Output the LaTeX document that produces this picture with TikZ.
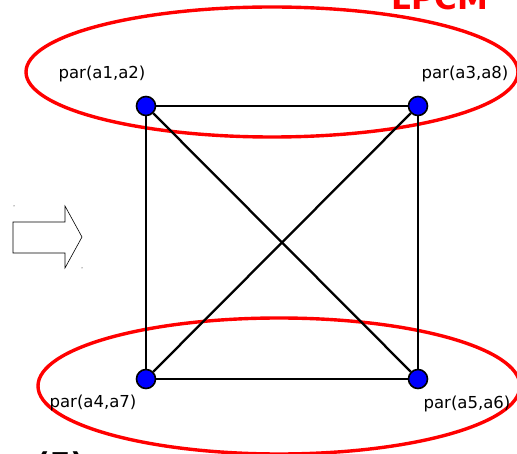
\documentclass[tikz,border=0pt]{standalone}
\usepackage{fontspec}
\setmainfont{DejaVu Sans}
\begin{document}
\begin{tikzpicture}[x=1pt,y=-1pt,
  vtx/.style={circle,fill=blue,draw=black,line width=1.6pt,minimum size=19pt,inner sep=0pt},
  edge/.style={draw=black,line width=2.3pt},
  grp/.style={draw=red,line width=3.4pt},
  lbl/.style={font=\fontsize{16.5}{18}\selectfont,inner sep=0pt}]
\useasboundingbox (0,0) rectangle (517,454);
\draw[grp] (272,72) ellipse [x radius=246, y radius=65];
\draw[grp] (279,386) ellipse [x radius=241, y radius=68];
\node[vtx] (a) at (146,106) {};
\node[vtx] (b) at (418,106) {};
\node[vtx] (c) at (146,379) {};
\node[vtx] (d) at (418,379) {};
\draw[edge] (a) -- (b) -- (d) -- (c) -- (a);
\draw[edge] (a) -- (d);
\draw[edge] (b) -- (c);
\node[lbl] (la) at (102,74) {par(a1,a2)};
\node[lbl] (lb) at (465,74) {par(a3,a8)};
\node[lbl] (lc) at (93,403) {par(a4,a7)};
\node[lbl] (ld) at (467,404) {par(a5,a6)};
\node[font=\fontsize{31}{33}\selectfont\bfseries,text=red,anchor=base,inner sep=0pt] (t) at (440,10) {LPCM};
\node[font=\fontsize{30}{32}\selectfont\bfseries,text=black,anchor=base west,inner sep=0pt] (e) at (36,474) {(E)};
\draw[black,line width=0.6pt] (13,222) -- (65,222) -- (65,206) -- (82,237) -- (65,268) -- (65,253) -- (13,253) -- cycle;
\fill[black] (14,206) circle (0.5);
\fill[black] (82,268) circle (0.5);
\end{tikzpicture}
\end{document}
